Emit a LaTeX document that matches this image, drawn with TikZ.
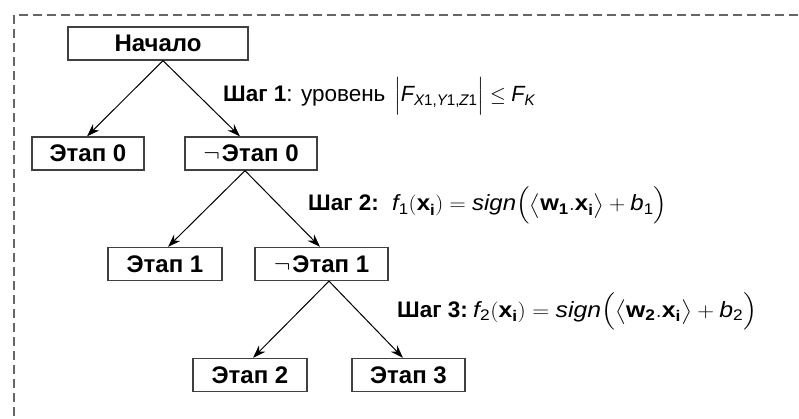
\documentclass[tikz,border=0pt]{standalone}
\usepackage{amsmath}
\usepackage{graphicx}
\usepackage{fontspec}
\setmainfont{Liberation Sans}
\usetikzlibrary{arrows.meta}

% italic and bold letters taken from the text font
\newcommand{\mi}[1]{\text{\itshape #1}}
\newcommand{\mb}[1]{\text{\bfseries #1}}
% stretch a formula horizontally to a given width (in pt)
\newcommand{\fitw}[2]{\sbox0{#2}\pgfmathsetmacro\fitratio{#1/\wd0}\scalebox{\fitratio}[1]{\usebox0}}

\tikzset{
  stage/.style={draw=black!75, line width=1.3pt, fill=white, inner sep=0pt,
    minimum height=33pt, font=\fontsize{24}{26}\selectfont\bfseries},
  branch/.style={-{Stealth[length=13pt,width=9pt]}, line width=1pt, black},
  steplabel/.style={anchor=base west, inner sep=0pt,
    font=\fontsize{22.5}{25}\selectfont},
  formula/.style={anchor=base west, inner sep=0pt,
    font=\fontsize{22}{24}\selectfont},
  frame/.style={draw=black!60, line width=1.5pt, dash pattern=on 9pt off 5pt}
}

\begin{document}
\begin{tikzpicture}[x=1pt, y=-1pt]
  \useasboundingbox (0,0) rectangle (799,419);
  \draw[frame] (14,430) -- (14,15) -- (810,15);

  % stage boxes
  \node[stage, minimum width=180pt] (start) at (158,43.5) {Начало};
  \node[stage, minimum width=112pt] (s0)  at (88,153.5)  {Этап 0};
  \node[stage, minimum width=132pt] (n0)  at (251,153.5) {$\neg$\kern2pt Этап 0};
  \node[stage, minimum width=114pt] (s1)  at (165,264)   {Этап 1};
  \node[stage, minimum width=133pt] (n1)  at (321.5,264) {$\neg$\kern2pt Этап 1};
  \node[stage, minimum width=114pt] (s2)  at (250,375)   {Этап 2};
  \node[stage, minimum width=113pt] (s3)  at (408.5,375) {Этап 3};

  % branches
  \draw[branch] ([xshift=5pt]start.south) -- ([xshift=-1pt]s0.north);
  \draw[branch] ([xshift=5pt]start.south) -- ([xshift=-11pt]n0.north);
  \draw[branch] ([xshift=-6pt]n0.south) -- ([xshift=3pt]s1.north);
  \draw[branch] ([xshift=-6pt]n0.south) -- ([xshift=-1.5pt]n1.north);
  \draw[branch] ([xshift=7.5pt]n1.south) -- ([xshift=3pt]s2.north);
  \draw[branch] ([xshift=7.5pt]n1.south) -- ([xshift=-5.5pt]s3.north);

  % step conditions
  \node[steplabel] (step1) at (223,101.7) {\textbf{Шаг 1}: уровень};
  \node[formula] (cond1) at (394,101.7)
    {\fitw{141}{$\Bigl|\mi{F}_{\mi{X}\text{1,}\mi{Y}\text{1,}\mi{Z}\text{1}}\Bigr|\leq \mi{F}_{\mi{K}}$}};
  \node[steplabel] (step2) at (308,211) {\textbf{Шаг 2:}};
  \node[formula] (cond2) at (392,211)
    {\fitw{275}{$\mi{f}_{\text{1}}(\mb{x}_{\mb{i}}) = \mi{sign}\Bigl(\bigl\langle \mb{w}_{\mb{1}}.\mb{x}_{\mb{i}}\bigr\rangle + \mi{b}_{\text{1}}\Bigr)$}};
  \node[steplabel] (step3) at (397,317) {\textbf{Шаг 3:}};
  \node[formula] (cond3) at (473,317)
    {\fitw{284}{$\mi{f}_{\text{2}}(\mb{x}_{\mb{i}}) = \mi{sign}\Bigl(\bigl\langle \mb{w}_{\mb{2}}.\mb{x}_{\mb{i}}\bigr\rangle + \mi{b}_{\text{2}}\Bigr)$}};
\end{tikzpicture}
\end{document}
